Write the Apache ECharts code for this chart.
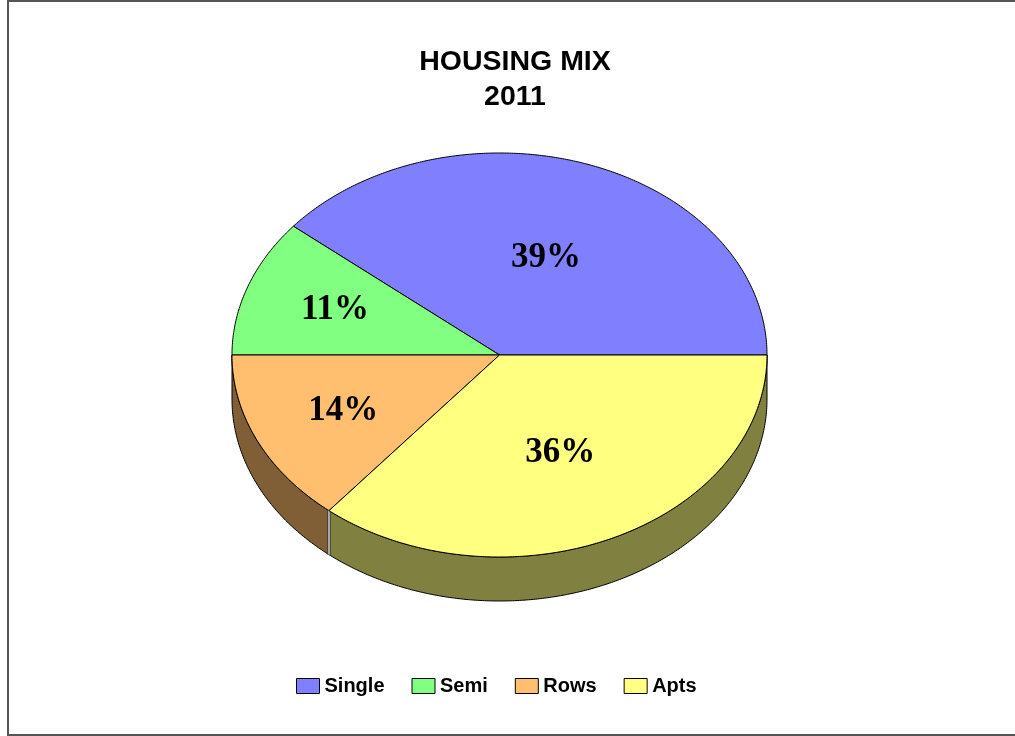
<!DOCTYPE html>
<html>
<head>
<meta charset="utf-8">
<script src="https://cdn.jsdelivr.net/npm/echarts@6/dist/echarts.min.js"></script>
<style>
  html, body { margin: 0; padding: 0; background: #fff; }
  #chart { width: 1015px; height: 736px; }
</style>
</head>
<body>
<div id="chart"></div>
<script>
// Housing mix, 2011 (share of dwellings, %)
const categories = ['Single', 'Semi', 'Rows', 'Apts'];
const shares = [39, 11, 14, 36];

// Face and wall colours of each slice
const topColors = ['#8080FF', '#80FF80', '#FFBF6F', '#FFFF80'];
const sideColors = ['#404080', '#408040', '#805F37', '#808040'];

// Tilted pie geometry (ellipse on screen)
const PIE = { cx: 499.5, cy: 355, rx: 267.5, ry: 202, depth: 44 };

const total = shares.reduce((a, b) => a + b, 0);

function pt(deg, dz) {
  const r = deg * Math.PI / 180;
  return [PIE.cx + PIE.rx * Math.cos(r), PIE.cy - PIE.ry * Math.sin(r) + (dz || 0)];
}

function arc(a, b, dz) {
  const out = [];
  const n = Math.max(2, Math.ceil(Math.abs(b - a) / 0.5));
  for (let k = 0; k <= n; k++) out.push(pt(a + (b - a) * k / n, dz));
  return out;
}

function renderSlice(params, api) {
  const i = params.seriesIndex;
  const value = api.value(0);
  let before = 0;
  for (let k = 0; k < i; k++) before += shares[k];
  const t0 = before / total * 360;
  const t1 = (before + value) / total * 360;
  const children = [];

  // outer wall, visible on the front half (180..360 deg)
  const a = Math.max(t0, 180), b = Math.min(t1, 360);
  if (b > a) {
    const pts = arc(a, b, 0).concat(arc(b, a, PIE.depth));
    children.push({
      type: 'polygon',
      shape: { points: pts },
      style: { fill: sideColors[i], stroke: '#000', lineWidth: 1 }
    });
  }
  // thin seam where a slice starts on the front wall
  if (t0 > 180 && t0 < 360) {
    const p = pt(t0, 0);
    children.push({
      type: 'rect',
      shape: { x: p[0] - 1.5, y: p[1], width: 3, height: PIE.depth },
      style: {
        fill: new echarts.graphic.LinearGradient(0, 0, 1, 0, [
          { offset: 0, color: '#222' }, { offset: 0.5, color: '#e8e8e8' }, { offset: 1, color: '#222' }
        ])
      }
    });
  }
  // top face
  children.push({
    type: 'polygon',
    shape: { points: [[PIE.cx, PIE.cy]].concat(arc(t0, t1, 0)) },
    style: { fill: topColors[i], stroke: '#000', lineWidth: 1 }
  });
  // percentage label near the centroid of the slice
  const half = (t1 - t0) / 2 * Math.PI / 180;
  const f = 2 * Math.sin(half) / (3 * half);
  const mid = (t0 + t1) / 2 * Math.PI / 180;
  children.push({
    type: 'text',
    z2: 10,
    x: PIE.cx + PIE.rx * f * Math.cos(mid),
    y: PIE.cy - PIE.ry * f * Math.sin(mid),
    style: {
      text: Math.round(value) + '%',
      font: 'bold 35px "Liberation Serif", "Times New Roman", serif',
      fill: '#000',
      align: 'center',
      verticalAlign: 'middle'
    }
  });
  return { type: 'group', children };
}

const chart = echarts.init(document.getElementById('chart'), null, { renderer: 'canvas' });

chart.setOption({
  animation: false,
  backgroundColor: '#fff',
  title: {
    text: 'HOUSING MIX\n2011',
    left: 515,
    textAlign: 'center',
    top: 40,
    padding: [5, 0, 5, 0],
    textStyle: {
      fontFamily: '"Liberation Sans", Arial, sans-serif',
      fontWeight: 'bold',
      fontSize: 28.5,
      lineHeight: 35,
      color: '#000'
    }
  },
  legend: {
    data: categories,
    left: 291,
    top: 671,
    icon: 'rect',
    itemWidth: 23,
    itemHeight: 15,
    itemGap: 27,
    itemStyle: { borderColor: '#000', borderWidth: 1 },
    textStyle: {
      fontFamily: '"Liberation Sans", Arial, sans-serif',
      fontWeight: 'bold',
      fontSize: 20,
      color: '#000'
    }
  },
  graphic: [{
    type: 'rect',
    silent: true,
    shape: { x: 8, y: 1, width: 1020, height: 734 },
    style: { fill: 'none', stroke: '#555', lineWidth: 2 }
  }],
  series: categories.map((name, i) => ({
    type: 'custom',
    name: name,
    coordinateSystem: 'none',
    renderItem: renderSlice,
    itemStyle: { color: topColors[i] },
    data: [shares[i]]
  }))
});
</script>
</body>
</html>
